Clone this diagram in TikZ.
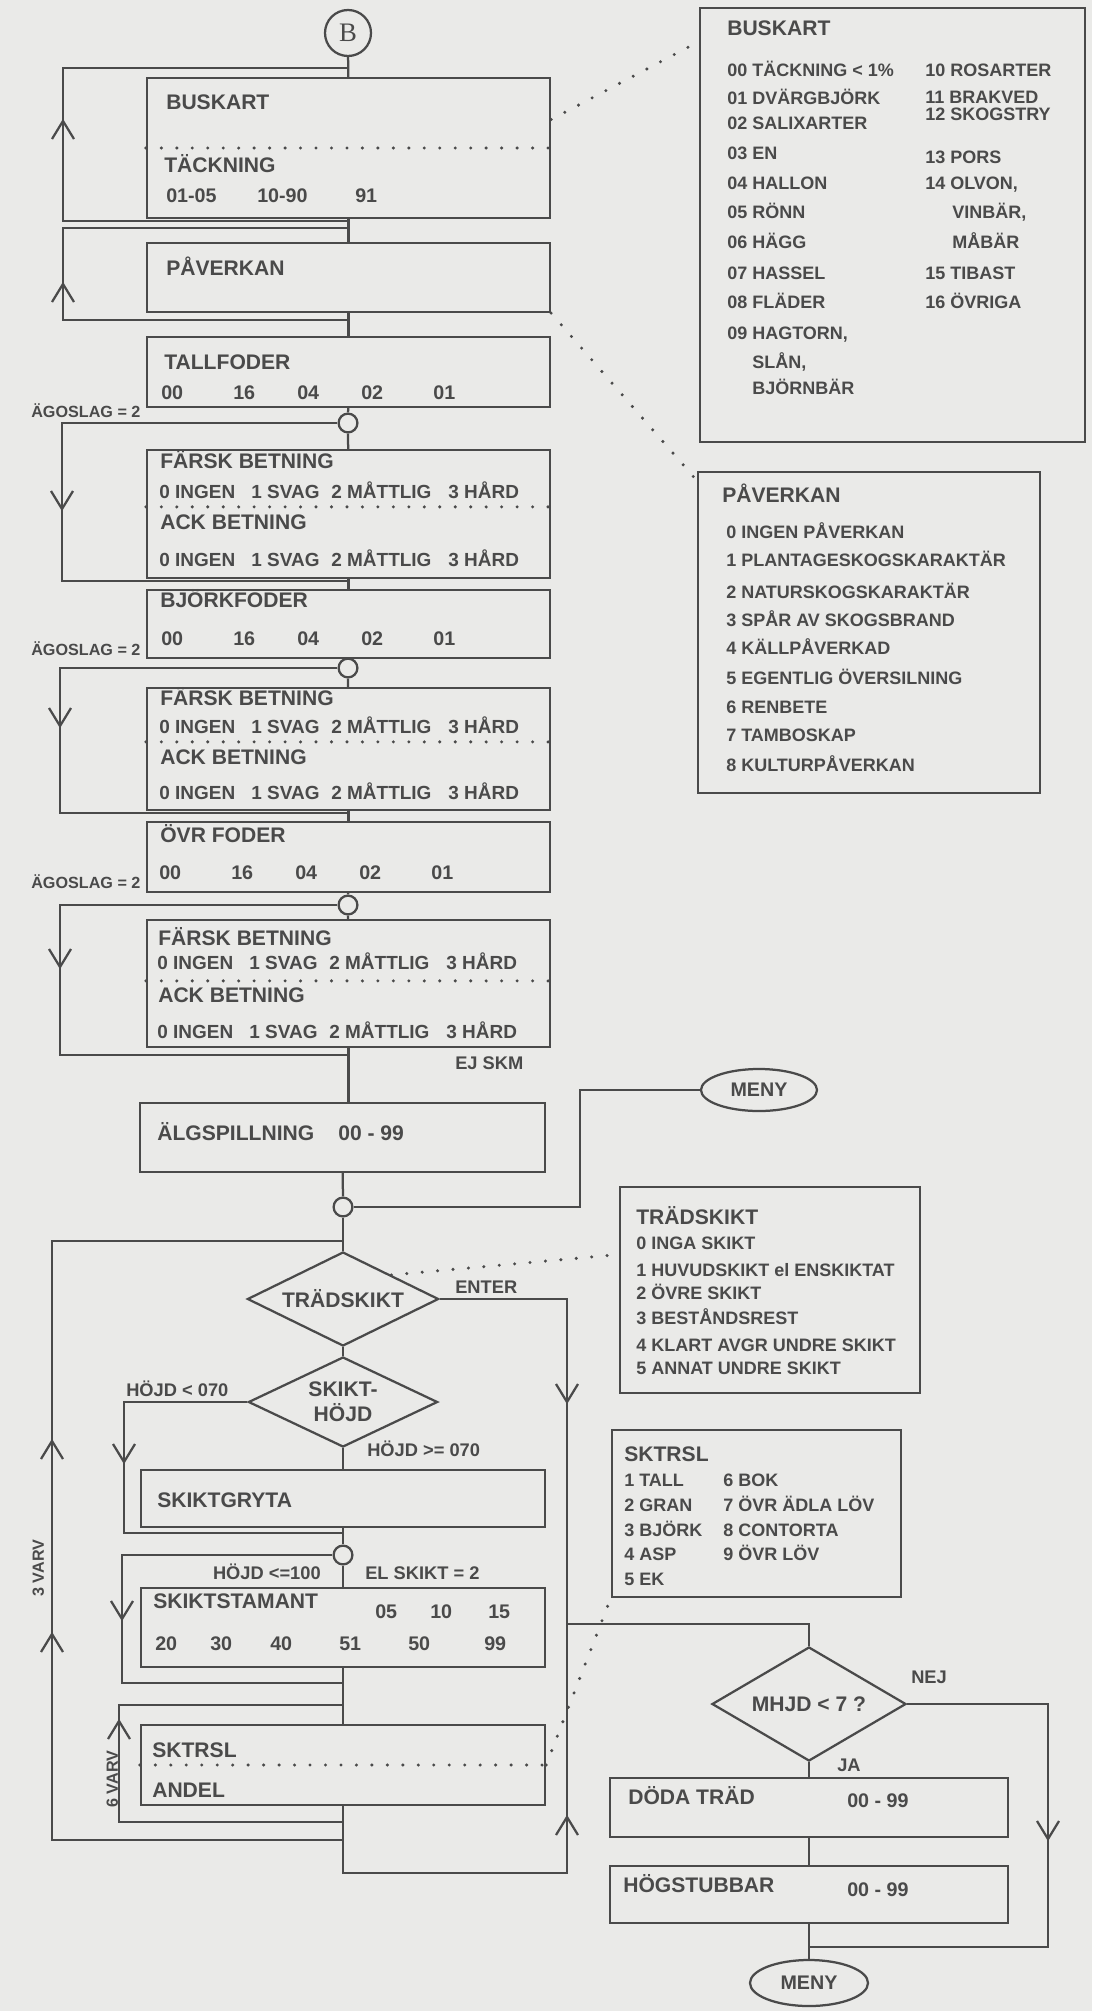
\documentclass[tikz,border=0pt]{standalone}
\usepackage{fontspec}
\setmainfont{Liberation Sans}
\newfontfamily\serifB{Liberation Serif}
\usepackage{tikz}
\usetikzlibrary{arrows.meta,positioning,shapes.geometric,fit,calc}
\definecolor{ink}{RGB}{74,74,74}
\definecolor{paper}{RGB}{234,234,232}
% 行内容
\newcommand{\betrad}{\makebox[2.3cm][l]{0 INGEN}\makebox[2cm][l]{1 SVAG}\makebox[2.925cm][l]{2 MÅTTLIG}3 HÅRD}
\newcommand{\fodrad}{\makebox[1.8cm][l]{00}\makebox[1.6cm][l]{16}\makebox[1.6cm][l]{04}\makebox[1.8cm][l]{02}01}
\tikzset{
  box/.style={draw=ink, line width=1.6pt, inner sep=0pt},
  rbox/.style={draw=ink, line width=1.9pt, inner sep=0pt},
  ttl/.style={anchor=west, inner sep=0pt, text=ink, font=\fontsize{15}{18}\selectfont\bfseries,
              text height=10.8pt, text depth=0pt},
  row/.style={ttl, font=\fontsize{13.5}{16}\selectfont\bfseries, text height=9.7pt},
  num/.style={ttl, font=\fontsize{14}{16}\selectfont\bfseries, text height=10pt},
  rt/.style={ttl, font=\fontsize{12.8}{15}\selectfont\bfseries, text height=9.2pt},
  lab/.style={ttl, font=\fontsize{13}{15}\selectfont\bfseries, text height=9.3pt},
  agl/.style={ttl, font=\fontsize{11.5}{14}\selectfont\bfseries, text height=8.3pt},
  wire/.style={draw=ink, line width=1.6pt},
  dots/.style={draw=ink, line width=2.4pt, line cap=round, dash pattern=on 0pt off 11pt},
  dia/.style={diamond, aspect=2, draw=ink, line width=1.6pt, inner sep=0pt, text=ink,
              font=\fontsize{15}{18}\selectfont\bfseries, align=center},
  term/.style={ellipse, draw=ink, line width=1.6pt, inner sep=0pt, text=ink,
               font=\fontsize{14}{16}\selectfont\bfseries},
  knot/.style={circle, draw=ink, line width=1.6pt, fill=paper, minimum size=0.47cm, inner sep=0pt},
  chup/.pic={\draw[wire] (-11,9) -- (0,-9) -- (11,9);},
  chdn/.pic={\draw[wire] (-11,-9) -- (0,9) -- (11,-9);},
}

\begin{document}
\begin{tikzpicture}[x=0.025cm, y=-0.025cm]
    \useasboundingbox (0,0) rectangle (1092,2011);
    \fill[paper] (0,0) rectangle (1092,2011);

    % 主干框
    \node[knot, minimum size=1.15cm, text=ink, font=\serifB\fontsize{19}{19}\selectfont] (b) at (348,33) {B};
    \node[box, fit={(147,78) (550,218)}] (bk) {};
    \node[box, fit={(147,243) (550,312)}] (pv) {};
    \node[box, fit={(147,337) (550,407)}] (tf) {};
    \node[knot] (c1) at (348,423) {};
    \node[box, fit={(147,450) (550,578)}] (fa1) {};
    \node[box, fit={(147,590) (550,658)}] (bj) {};
    \node[knot] (c2) at (348,668) {};
    \node[box, fit={(147,688) (550,810)}] (fa2) {};
    \node[box, fit={(147,822) (550,892)}] (ov) {};
    \node[knot] (c3) at (348,905) {};
    \node[box, fit={(147,920) (550,1047)}] (fa3) {};
    \node[box, fit={(140,1103) (545,1172)}] (alg) {};
    \node[knot] (c4) at (343,1207) {};
    \node[dia, minimum width=4.78cm, minimum height=2.35cm] (trd) at (343,1299) {TRÄDSKIKT};
    \node[dia, minimum width=4.73cm, minimum height=2.25cm] (hjd) at (343,1402) {SKIKT-\\HÖJD};
    \node[box, fit={(141,1470) (545,1527)}] (sg) {};
    \node[knot] (c5) at (343,1555) {};
    \node[box, fit={(141,1588) (545,1667)}] (ss) {};
    \node[box, fit={(141,1725) (545,1805)}] (skt) {};
    \node[term, minimum width=2.9cm, minimum height=1.05cm] (meny1) at (759,1090) {MENY};
    \node[dia, minimum width=4.85cm, minimum height=2.85cm] (mhjd) at (809,1704) {MHJD < 7 ?};
    \node[box, fit={(610,1778) (1008,1837)}] (dt) {};
    \node[box, fit={(610,1866) (1008,1923)}] (hs) {};
    \node[term, minimum width=2.95cm, minimum height=1.15cm] (meny2) at (809,1983) {MENY};

    % 右侧说明框
    \node[rbox, fit={(700,8) (1085,442)}] (rbk) {};
    \node[rbox, fit={(698,472) (1040,793)}] (rpv) {};
    \node[rbox, fit={(620,1187) (920,1393)}] (rtr) {};
    \node[rbox, fit={(612,1430) (901,1597)}] (rsk) {};

    % 汇合点
    \coordinate (j0) at (348,68);
    \coordinate (j1) at (348,221);
    \coordinate (j2) at (348,228);
    \coordinate (j3) at (348,320);
    \coordinate (j4) at (348,581);
    \coordinate (j5) at (348,813);
    \coordinate (j6) at (348,1055);
    \coordinate (j7) at (343,1241);
    \coordinate (j10) at (343,1533);
    \coordinate (j11) at (343,1683);
    \coordinate (j12) at (343,1705);
    \coordinate (j13) at (343,1822);
    \coordinate (j8) at (343,1840);
    \coordinate (j9) at (567,1624);
    \coordinate (j14) at (809,1947);

    % 连线
    \draw[wire] (b) -- (bk);
    \draw[wire] (bk) -- (pv);
    \draw[wire] (pv) -- (tf);
    \draw[wire] (tf) -- (c1);
    \draw[wire] (c1) -- (fa1);
    \draw[wire] (fa1) -- (bj);
    \draw[wire] (bj) -- (c2);
    \draw[wire] (c2) -- (fa2);
    \draw[wire] (fa2) -- (ov);
    \draw[wire] (ov) -- (c3);
    \draw[wire] (c3) -- (fa3);
    \draw[wire] (fa3) -- (fa3 |- alg.north);
    \draw[wire] (alg) -- (c4);
    \draw[wire] (meny1.west) -| (580,1150) |- (c4.east);
    \draw[wire] (c4) -- (trd);
    \draw[wire] (trd) -- (hjd);
    \draw[wire] (hjd) -- (sg);
    \draw[wire] (sg) -- (c5);
    \draw[wire] (c5) -- (ss);
    \draw[wire] (ss) -- (skt);
    \draw[wire] (skt.south) -- ++(0,67) -| (j9);
    \draw[wire] (trd.east) -| (j9);
    \draw[wire] (j9) -| (mhjd.north);
    \draw[wire] (mhjd) -- (dt);
    \draw[wire] (mhjd.east) -| (1048,1830) |- (j14);
    \draw[wire] (dt) -- (hs);
    \draw[wire] (hs) -- (meny2);

    % 回路
    \draw[wire] (j1) -- (63,221) -- (63,68) -- (j0);
    \draw[wire] (j3) -- (63,320) -- (63,228) -- (j2);
    \draw[wire] (c1.west) -| (62,500) |- (j4);
    \draw[wire] (c2.west) -| (60,720) |- (j5);
    \draw[wire] (c3.west) -| (60,960) |- (j6);
    \draw[wire] (j8) -- (52,1840) -- (52,1241) -- (j7);
    \draw[wire] (hjd.west) -| (124,1470) |- (j10);
    \draw[wire] (c5.west) -| (122,1610) |- (j11);
    \draw[wire] (j13) -- (119,1822) -- (119,1705) -- (j12);

    \pic at (63,130) {chup};
    \pic at (63,293) {chup};
    \pic at (62,500) {chdn};
    \pic at (60,717) {chdn};
    \pic at (60,958) {chdn};
    \pic at (52,1450) {chup};
    \pic at (52,1643) {chup};
    \pic at (124,1453) {chdn};
    \pic at (567,1393) {chdn};
    \pic at (122,1610) {chdn};
    \pic at (119,1730) {chup};
    \pic at (567,1826) {chup};
    \pic at (1048,1830) {chdn};

    % 虚线
    \draw[dots] (bk.west) -- (bk.east);
    \draw[dots] ($(fa1.north west)+(0,58)$) -- ($(fa1.north east)+(0,58)$);
    \draw[dots] ($(fa2.north west)+(0,55)$) -- ($(fa2.north east)+(0,55)$);
    \draw[dots] ($(fa3.north west)+(0,62)$) -- ($(fa3.north east)+(0,62)$);
    \draw[dots] (skt.west) -- (skt.east);
    \draw[dots] ($(bk.north east)!0.3!(bk.south east)$) -- ($(rbk.north west)!0.08!(rbk.south west)$);
    \draw[dots] (pv.south east) -- ($(rpv.north west)!0.03!(rpv.south west)$);
    \draw[dots] (trd.north east) -- ($(rtr.north west)!0.33!(rtr.south west)$);
    \draw[dots] (skt.east) -- (rsk.south west);

    % 框内文字
    \node[ttl] (bk-t) at (166,102) {BUSKART};
    \node[ttl] (bk-u) at (164,165) {TÄCKNING};
    \node[num] (bk-n1) at (166,195) {01-05};
    \node[num] (bk-n2) at (257,195) {10-90};
    \node[num] (bk-n3) at (355,195) {91};
    \node[ttl] (pv-t) at (166,268) {PÅVERKAN};
    \node[ttl] (tf-t) at (164,362) {TALLFODER};
    \node[num] (tf-n) at (161,392) {\fodrad};
    \node[agl] (ag1) at (31,412) {ÄGOSLAG = 2};
    \node[ttl] (fa1-t) at (160,461) {FÄRSK BETNING};
    \node[row] (fa1-r) at (159,492) {\betrad};
    \node[ttl] (fa1-u) at (160,522) {ACK BETNING};
    \node[row] (fa1-s) at (159,560) {\betrad};
    \node[ttl] (bj-t) at (160,600) {BJÖRKFODER};
    \node[num] (bj-n) at (161,638) {\fodrad};
    \node[agl] (ag2) at (31,650) {ÄGOSLAG = 2};
    \node[ttl] (fa2-t) at (160,698) {FÄRSK BETNING};
    \node[row] (fa2-r) at (159,727) {\betrad};
    \node[ttl] (fa2-u) at (160,757) {ACK BETNING};
    \node[row] (fa2-s) at (159,793) {\betrad};
    \node[ttl] (ov-t) at (160,835) {ÖVR FODER};
    \node[num] (ov-n) at (159,872) {\fodrad};
    \node[agl] (ag3) at (31,883) {ÄGOSLAG = 2};
    \node[ttl] (fa3-t) at (158,938) {FÄRSK BETNING};
    \node[row] (fa3-r) at (157,963) {\betrad};
    \node[ttl] (fa3-u) at (158,995) {ACK BETNING};
    \node[row] (fa3-s) at (157,1032) {\betrad};
    \node[lab] (ejskm) at (455,1063) {EJ SKM};
    \node[ttl] (alg-t) at (157,1133) {ÄLGSPILLNING};
    \node[ttl] (alg-n) at (338,1133) {00 - 99};
    \node[lab] (enter) at (455,1287) {ENTER};
    \node[lab, anchor=south west] (hl) at (126,1397) {HÖJD < 070};
    \node[lab] (hg) at (367,1450) {HÖJD >= 070};
    \node[ttl] (sg-t) at (157,1500) {SKIKTGRYTA};
    \node[lab, anchor=east] (hl2) at (321,1573) {HÖJD <=100};
    \node[lab] (elsk) at (365,1573) {EL SKIKT = 2};
    \node[ttl] (ss-t) at (153,1601) {SKIKTSTAMANT};
    \node[num] (ss-a) at (375,1611) {05};
    \node[num] (ss-b) at (430,1611) {10};
    \node[num] (ss-c) at (488,1611) {15};
    \foreach \x/\t [count=\i] in {155/20, 210/30, 270/40, 339/51, 408/50, 484/99}
        \node[num] (ss-n\i) at (\x,1643) {\t};
    \node[ttl] (skt-t) at (152,1750) {SKTRSL};
    \node[ttl] (skt-u) at (152,1790) {ANDEL};
    \node[agl, rotate=90] (v3) at (38,1597) {3 VARV};
    \node[agl, rotate=90] (v6) at (112,1808) {6 VARV};
    \node[lab] (nej) at (911,1677) {NEJ};
    \node[lab] (ja) at (837,1765) {JA};
    \node[ttl] (dt-t) at (628,1797) {DÖDA TRÄD};
    \node[num] (dt-n) at (847,1800) {00 - 99};
    \node[ttl] (hs-t) at (623,1885) {HÖGSTUBBAR};
    \node[num] (hs-n) at (847,1889) {00 - 99};

    % 右侧文字
    \node[ttl] (rbk-t) at (727,28) {BUSKART};
    \foreach \y/\t [count=\i] in {70/00 TÄCKNING < 1\%, 98/01 DVÄRGBJÖRK, 123/02 SALIXARTER,
        153/03 EN, 183/04 HALLON, 212/05 RÖNN, 242/06 HÄGG, 273/07 HASSEL, 302/08 FLÄDER,
        333/{09 HAGTORN,}}
        \node[rt] (rbk-a\i) at (727,\y) {\t};
    \node[rt] (rbk-s1) at (752,362) {SLÅN,};
    \node[rt] (rbk-s2) at (752,388) {BJÖRNBÄR};
    \foreach \y/\t [count=\i] in {70/10 ROSARTER, 97/11 BRAKVED, 114/12 SKOGSTRY, 157/13 PORS,
        183/{14 OLVON,}, 273/15 TIBAST, 302/16 ÖVRIGA}
        \node[rt] (rbk-b\i) at (925,\y) {\t};
    \node[rt] (rbk-v1) at (952,212) {VINBÄR,};
    \node[rt] (rbk-v2) at (952,242) {MÅBÄR};

    \node[ttl] (rpv-t) at (722,495) {PÅVERKAN};
    \foreach \y/\t [count=\i] in {532/0 INGEN PÅVERKAN, 560/1 PLANTAGESKOGSKARAKTÄR,
        592/2 NATURSKOGSKARAKTÄR, 620/3 SPÅR AV SKOGSBRAND, 648/4 KÄLLPÅVERKAD,
        678/5 EGENTLIG ÖVERSILNING, 707/6 RENBETE, 735/7 TAMBOSKAP, 765/8 KULTURPÅVERKAN}
        \node[rt] (rpv-a\i) at (726,\y) {\t};

    \node[ttl] (rtr-t) at (636,1217) {TRÄDSKIKT};
    \foreach \y/\t [count=\i] in {1243/0 INGA SKIKT, 1270/1 HUVUDSKIKT el ENSKIKTAT,
        1293/2 ÖVRE SKIKT, 1318/3 BESTÅNDSREST, 1345/4 KLART AVGR UNDRE SKIKT,
        1368/5 ANNAT UNDRE SKIKT}
        \node[rt] (rtr-a\i) at (636,\y) {\t};

    \node[ttl] (rsk-t) at (624,1454) {SKTRSL};
    \foreach \y/\t [count=\i] in {1480/1 TALL, 1505/2 GRAN, 1530/3 BJÖRK, 1554/4 ASP, 1579/5 EK}
        \node[rt] (rsk-a\i) at (624,\y) {\t};
    \foreach \y/\t [count=\i] in {1480/6 BOK, 1505/7 ÖVR ÄDLA LÖV, 1530/8 CONTORTA, 1554/9 ÖVR LÖV}
        \node[rt] (rsk-b\i) at (723,\y) {\t};
\end{tikzpicture}
\end{document}
